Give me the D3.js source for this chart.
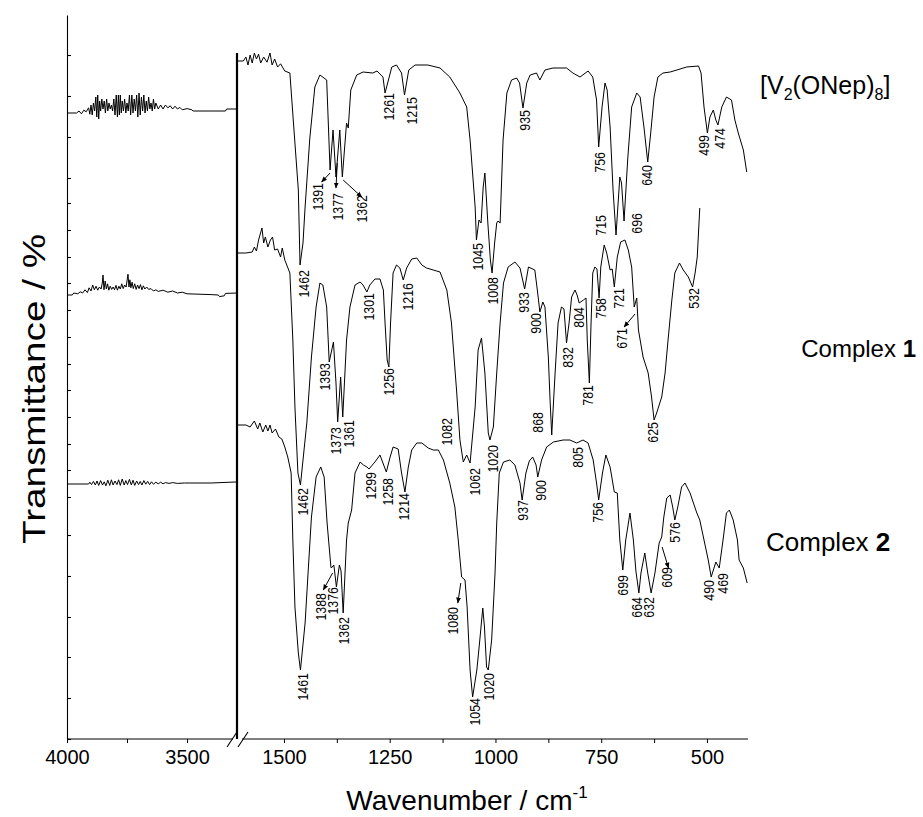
<!DOCTYPE html>
<html>
<head>
<meta charset="utf-8">
<script src="https://cdn.jsdelivr.net/npm/d3@7"></script>
<style>
body { margin:0; background:#fff; }
text { font-family: "Liberation Sans", Arial, sans-serif; fill:#000; }
</style>
</head>
<body>
<svg id="chart" width="923" height="817"></svg>
<script>
// Offset transmittance (arbitrary units) against wavenumber / cm-1

// 4000 - 3300 region, one array per compound
var v2LeftHigh = [[4000,156.5],[3960,156.5],[3950,157],[3940,156.3],[3930,157.2],[3920,156.8],[3910,157.8],[3905,156.2],[3900,158.5],
    [3895,156],[3890,159],[3885,157],[3880,160.5],[3876,155.5],[3872,161],[3868,155],[3864,159.5],[3860,157],[3855,160],[3850,157.5],
    [3845,159.5],[3840,156.5],[3835,160],[3830,157],[3825,159],[3820,157.5],[3815,158.5],[3810,157],[3805,160],[3800,156],[3795,161],
    [3790,155.5],[3786,161],[3782,156],[3778,161],[3774,156.5],[3770,159.5],[3765,157],[3760,160],[3755,156.5],[3750,159],[3745,157],
    [3740,161],[3735,156],[3730,161],[3725,156.5],[3720,160],[3715,157],[3710,161],[3705,155.5],[3700,161.5],[3695,156],[3690,160.5],
    [3685,157],[3680,161],[3675,156.5],[3670,159.5],[3665,157],[3660,160.5],[3655,157.5],[3650,159],[3645,157],[3640,160],[3635,157.5],
    [3630,159],[3620,157.5],[3610,158.5],[3600,157.5],[3590,158.5],[3580,157.8],[3570,158.3],[3560,157.5],[3550,158.2],[3540,157.5],
    [3530,157.9],[3520,157.3],[3500,157.6],[3480,157.3],[3475,157],[3400,157],[3340,157],[3335,157.5],[3292,157.5]]
var c1LeftHigh = [[4000,111],[3978,111],[3972,111.5],[3955,111.3],[3945,111.8],[3935,111.5],[3925,112.3],[3915,111.6],[3908,112.8],
    [3900,112],[3893,113.5],[3886,112.3],[3879,113.2],[3872,112.2],[3865,113],[3858,112.5],[3853,114],[3850,116],[3846,112.3],
    [3841,114.5],[3836,112.5],[3831,113.8],[3826,112.2],[3820,113.2],[3814,112.4],[3808,113],[3802,112.3],[3796,113.4],[3790,112.2],
    [3784,113.2],[3778,112.5],[3772,113.8],[3766,112.6],[3760,113.5],[3754,113],[3750,114.5],[3746,116.2],[3742,113],[3738,114.8],
    [3734,112.8],[3729,114.2],[3724,112.6],[3718,113.8],[3712,112.4],[3706,113.5],[3700,112.6],[3694,113.6],[3688,112.3],[3682,113.3],
    [3676,112.5],[3668,113],[3660,112.4],[3650,112.6],[3640,112],[3630,112.3],[3620,111.9],[3600,112.2],[3580,111.7],[3560,112],
    [3540,111.5],[3520,111.7],[3500,111.3],[3400,111.1],[3370,111],[3365,110.6],[3345,110.8],[3340,111.4],[3292,111.5]]
var c2LeftHigh = [[4000,63.75],[3910,63.75],[3905,64.2],[3898,63.6],[3890,64.4],[3882,63.5],[3875,64.5],[3868,63.4],[3860,64.6],
    [3852,63.5],[3845,64.3],[3838,63.3],[3830,64.7],[3822,63.4],[3815,64.8],[3808,63.5],[3800,64.5],[3792,63.6],[3785,64.8],[3778,63.4],
    [3770,65],[3762,63.5],[3755,64.6],[3748,63.6],[3740,64.9],[3732,63.5],[3725,64.7],[3718,63.4],[3710,64.5],[3702,63.6],[3695,64.4],
    [3688,63.5],[3680,64.6],[3672,63.7],[3664,64.4],[3656,63.6],[3648,64.3],[3640,63.7],[3630,64.2],[3620,63.8],[3610,64.2],[3600,63.8],
    [3590,64.1],[3575,63.9],[3560,64.1],[3540,63.9],[3510,64],[3400,64],[3300,64.25],[3292,64.25]]

// 1600 - 400 region
var v2Finger = [[1611,169.5],[1596,169.5],[1590,170.5],[1585,168.5],[1580,171],[1575,169],[1570,171.5],[1565,170],[1560,171.2],
    [1555,169],[1548,170.5],[1540,169.2],[1533,171.5],[1528,168.5],[1522,170],[1515,168],[1508,168.8],[1498,167],[1486,166.5],
    [1478,154.75],[1466,137.25],[1462,118.5],[1455,124],[1450,133],[1439,150],[1427,163],[1415,166],[1399,164.75],[1391,142.25],
    [1384,152.25],[1377,140.5],[1368,152.25],[1362,140.5],[1352,154],[1348,152.75],[1342,162.25],[1328,166],[1313,166.75],[1290,166.5],
    [1280,167],[1266,165.5],[1261,161.5],[1245,168],[1234,168.5],[1222,166.5],[1215,161],[1205,167.25],[1190,168.5],[1160,168.5],
    [1131,167.75],[1108,165.5],[1084,161.5],[1068,158],[1060,149.75],[1048,133],[1045,124.75],[1039,129.75],[1034,129],[1029,138],
    [1025,141.5],[1018,129],[1012,119.75],[1008,116.5],[1002,124],[997,129],[994,129.5],[989,129],[982,149.75],[973,161.5],[962,164.75],
    [950,165.25],[943,164],[935,157.75],[926,164],[918,166],[903,166.5],[895,164.75],[883,167.25],[864,167.75],[832,167.75],[817,166.5],
    [800,165.5],[781,167],[770,165.5],[761,159.75],[756,148],[748,158],[741,164],[736,162.25],[729,153],[722,137.25],[715,126],
    [706,140.5],[702,139],[696,129.5],[687,145.5],[678,158],[666,161.5],[658,160.5],[649,153],[640,144.25],[633,151.5],[625,160.5],
    [616,165.5],[604,166.5],[587,166.75],[548,168],[520,168.25],[514,166.5],[507,158],[499,151.5],[493,155.5],[485,157.25],[479,154.75],
    [474,153.5],[465,158],[454,160.5],[442,159.75],[434,154.75],[426,151.5],[414,147.25],[406,141.75]]
var c1Finger = [[1611,121.5],[1590,121.5],[1575,121.75],[1570,123],[1565,122],[1560,124.75],[1552,127.75],[1548,124],[1544,125.5],
    [1538,123],[1532,124.75],[1527,125.5],[1522,122.25],[1515,122.5],[1508,120.5],[1504,122.75],[1498,119.75],[1486,116.5],[1479,99.75],
    [1474,83],[1467,66.5],[1461,63.5],[1446,79],[1435,95.5],[1424,108],[1415,114],[1408,113.5],[1399,108],[1393,94.25],[1383,99.25],
    [1377,89],[1373,79.25],[1366,90.5],[1361,80.5],[1352,99.75],[1344,108],[1332,113.5],[1320,114.25],[1313,113.5],[1304,111.75],
    [1297,113.5],[1285,115],[1273,115],[1265,112.25],[1261,104],[1256,94.75],[1252,93],[1248,104],[1242,116.5],[1234,118.5],
    [1226,117.75],[1218,114.75],[1210,117.75],[1198,120],[1186,120.25],[1174,118.5],[1163,117.75],[1131,116.75],[1115,112.25],
    [1104,104],[1092,87.25],[1084,74.75],[1076,69.25],[1068,71],[1060,69],[1048,83],[1041,97.25],[1033,100.25],[1025,91.5],[1017,76.5],
    [1013,74.75],[1005,78],[997,91.5],[989,104],[981,114],[970,118],[954,119.25],[942,117.75],[931,112.5],[922,118],[907,117.25],
    [901,112.25],[895,106.75],[888,109.25],[883,108],[875,95.5],[871,85],[867,76],[859,91.5],[852,104],[844,108],[838,107.5],[832,99],
    [826,104],[820,110.5],[812,112.25],[807,111],[802,109],[792,109.75],[786,110.25],[783,99.75],[778,89],[774,104],[770,116.5],
    [765,118],[760,117.5],[755,110.25],[751,118],[743,123.5],[737,121.5],[729,117.25],[724,117.5],[719,113],[712,120.5],[704,124.25],
    [694,124.75],[686,122.25],[678,118],[672,108],[666,110.25],[662,102.25],[651,95.5],[639,91.5],[631,85.5],[625,79.75],[619,81.5],
    [607,85.5],[599,91.5],[592,99.75],[583,109.75],[576,116.5],[565,119],[556,117.25],[544,115.5],[534,113],[528,116.5],[523,120.5],
    [517,132.75]]
var c2Finger = [[1611,78.5],[1590,78.5],[1580,78],[1570,79.5],[1562,77.5],[1557,79],[1550,76.75],[1543,78.5],[1538,77],[1533,78.5],
    [1528,76.5],[1520,77.5],[1512,75.5],[1505,75],[1498,73],[1491,70.5],[1483,66.5],[1479,49.75],[1474,33],[1466,21.5],[1461,17.25],
    [1450,29],[1443,41.5],[1435,55.5],[1424,65.5],[1413,68],[1405,65.5],[1398,54],[1389,43],[1388,42.75],[1382,43.5],[1376,38],
    [1369,43.5],[1365,42],[1360,31.5],[1352,49.75],[1348,54],[1340,57.25],[1332,66.5],[1320,69.25],[1312,68.5],[1304,68],[1299,67.5],
    [1285,69.25],[1273,71],[1266,69],[1258,66.75],[1249,70.5],[1242,73],[1230,72.5],[1222,66.5],[1214,61.75],[1206,68],[1198,72.25],
    [1186,74],[1174,74],[1159,72.75],[1147,72.25],[1135,72.25],[1123,69.75],[1108,64],[1096,58],[1088,49.75],[1080,40.5],[1072,39.75],
    [1067,33],[1060,17.25],[1054,10.5],[1044,17.25],[1037,24.75],[1030,32.75],[1026,28],[1021,18],[1017,17.25],[1009,24.75],[1001,41.5],
    [997,54],[991,66.5],[981,69.25],[966,69.75],[954,68.5],[942,64],[937,59.75],[928,66.5],[920,69.5],[912,70.5],[904,68.5],[900,65.5],
    [891,69.75],[879,73],[863,74.25],[840,74.75],[824,74.75],[808,74],[793,74.75],[781,74],[769,69.75],[761,64],[756,59.75],[747,66.5],
    [739,71],[729,68],[719,61.75],[712,61.5],[706,49.75],[699,42.25],[692,49.75],[682,56.5],[674,49.75],[668,42],[661,36.5],[656,41.5],
    [647,46.5],[640,41.5],[632,36.5],[623,41.5],[613,49],[607,50.5],[602,55.5],[595,60.25],[587,61],[581,58],[576,54.75],[569,58],
    [560,63],[552,64],[540,61.5],[524,56.5],[517,54.75],[507,49.75],[497,44.75],[490,40.5],[479,44.25],[471,42.75],[462,49.75],
    [454,56.5],[447,57.25],[438,54.75],[428,49.75],[424,44.75],[414,42.75],[405,39]]

// band labels: text, wavenumber and level of the label's top end
var v2Bands = [['1462',1453,117.25],['1391',1420,139],['1377',1372,136.5],['1362',1316,136],['1261',1253,161.5],['1215',1198,160.5],
    ['1045',1043,124],['1008',1006,115.5],['935',930,157.25],['756',754,146.75],['715',752,131],['696',666,131.5],['640',642,143.5],
    ['499',507,151],['474',469,152.75]]
var c1Bands = [['1462',1456,62.75],['1393',1403,94],['1373',1377,78],['1361',1346,79.75],['1301',1299,111.5],['1256',1252,92.75],
    ['1216',1208,114],['1082',1115,80.25],['1062',1049,67.75],['1020',1007,73.5],['933',933,111.75],['900',905,106.5],['868',901,81.75],
    ['832',829,98],['804',803,108],['781',782,88.5],['758',751,110.25],['721',709,112.75],['671',702,102.75],['625',628,79.25],
    ['532',532,112.75]]
var c2Bands = [['1461',1456,16.5],['1388',1412,36.5],['1376',1385,38],['1362',1358,30.5],['1299',1294,66.75],['1258',1255,65.25],
    ['1214',1216,61.5],['1080',1100,33],['1054',1049,10.25],['1020',1015,16.5],['937',936,59.75],['900',892,64.75],['805',806,73],
    ['756',758,59.25],['699',700,41],['664',665,35.5],['632',637,35.5],['609',595,43],['576',576,54.25],['490',496,39.75],['469',463,41.5]]

// pointer arrows: from [wavenumber, level] to [wavenumber, level]
var pointers = [[1391,141.5,1411,139.25],[1374,144,1377,137.75],[1360,139.75,1316,135.5],[670,106.25,696,103],
    [1385,41.5,1407,37.25],[1082,39,1089,34],[606,48,591,42.75]]

var leftTicks = [4000, 3750, 3500]
var rightTicks = [1500, 1375, 1250, 1125, 1000, 875, 750, 625, 500]
var levelTicks = [0, 10.25, 20.5, 30.5, 40.75, 51, 60.5, 67.25, 73.75, 80.5, 87.25, 93.75, 100.5, 107.25, 114, 120.5, 127.25, 134,
    140.25, 150.5, 160.75, 171]

var svg = d3.select('#chart')
var xL = d3.scaleLinear().domain([4000, 3292]).range([67, 237])
var xR = d3.scaleLinear().domain([1611, 403]).range([237, 748])
var y = d3.scaleLinear().domain([0, 181]).range([739, 15])

svg.append('defs').append('marker')
    .attr('id', 'head').attr('viewBox', '0 0 10 10').attr('refX', 9).attr('refY', 5)
    .attr('markerWidth', 6).attr('markerHeight', 6).attr('orient', 'auto')
    .append('path').attr('d', 'M0,1 L10,5 L0,9 z').attr('fill', '#000')

// left y axis, ticks pointing inside
svg.append('g').attr('transform', 'translate(' + xL.range()[0] + ',0)')
    .call(d3.axisRight(y).tickValues(levelTicks).tickFormat('').tickSize(4).tickSizeOuter(0))
    .call(function(g) { g.selectAll('path, line').attr('stroke', '#000').attr('stroke-width', 1.1) })

// bottom axis, two pieces with a break
var bottom = y.range()[0]
var gL = svg.append('g').attr('transform', 'translate(0,' + bottom + ')')
    .call(d3.axisBottom(xL).tickValues(leftTicks).tickFormat(function(d) { return d == 3750 ? '' : d })
        .tickSize(4).tickSizeOuter(0).tickPadding(7))
var gR = svg.append('g').attr('transform', 'translate(0,' + bottom + ')')
    .call(d3.axisBottom(xR).tickValues(rightTicks).tickFormat(function(d) { return d % 250 ? '' : d })
        .tickSize(4).tickSizeOuter(0).tickPadding(7))
;[gL, gR].forEach(function(g) {
    g.select('.domain').remove()
    g.selectAll('line').attr('stroke', '#000')
    g.selectAll('text').attr('font-size', 20).attr('font-family', '"Liberation Sans", Arial, sans-serif').attr('fill', '#000')
})
var cut = xL.range()[1]
svg.append('line').attr('x1', xL.range()[0]).attr('x2', cut - 4).attr('y1', bottom).attr('y2', bottom).attr('stroke', '#000')
svg.append('line').attr('x1', cut + 5).attr('x2', xR.range()[1]).attr('y1', bottom).attr('y2', bottom).attr('stroke', '#000')
;[-5, 6].forEach(function(dx) {
    svg.append('line').attr('x1', cut + dx - 5).attr('y1', bottom + 8).attr('x2', cut + dx + 5).attr('y2', bottom - 7)
        .attr('stroke', '#000').attr('stroke-width', 1.1)
})

// the split between the two regions
svg.append('line').attr('x1', cut).attr('x2', cut).attr('y1', y(171.5)).attr('y2', bottom)
    .attr('stroke', '#000').attr('stroke-width', 2.2)

var lineL = d3.line().x(function(d) { return xL(d[0]) }).y(function(d) { return y(d[1]) })
var lineR = d3.line().x(function(d) { return xR(d[0]) }).y(function(d) { return y(d[1]) })
var traces = [[v2LeftHigh, v2Finger], [c1LeftHigh, c1Finger], [c2LeftHigh, c2Finger]]
traces.forEach(function(t) {
    svg.append('path').attr('d', lineL(t[0])).attr('fill', 'none').attr('stroke', '#000').attr('stroke-width', 1)
    svg.append('path').attr('d', lineR(t[1])).attr('fill', 'none').attr('stroke', '#000').attr('stroke-width', 1)
})

// band labels, rotated
var bands = v2Bands.concat(c1Bands, c2Bands)
svg.selectAll('text.band').data(bands).enter().append('text')
    .attr('class', 'band')
    .attr('transform', function(d) { return 'translate(' + xR(d[1]) + ',' + y(d[2]) + ') rotate(-90)' })
    .attr('text-anchor', 'end').attr('dy', '0.36em')
    .attr('font-size', 14.5)
    .attr('textLength', function(d) { return d[0].length * 6.9 })
    .attr('lengthAdjust', 'spacingAndGlyphs')
    .text(function(d) { return d[0] })

svg.selectAll('line.pointer').data(pointers).enter().append('line')
    .attr('class', 'pointer')
    .attr('x1', function(d) { return xR(d[0]) }).attr('y1', function(d) { return y(d[1]) })
    .attr('x2', function(d) { return xR(d[2]) }).attr('y2', function(d) { return y(d[3]) })
    .attr('stroke', '#000').attr('stroke-width', 1).attr('marker-end', 'url(#head)')

// compound names
var t1 = svg.append('text').attr('x', 760).attr('y', 94).attr('font-size', 25)
t1.append('tspan').text('[V')
t1.append('tspan').attr('font-size', 16).attr('dy', 6).text('2')
t1.append('tspan').attr('dy', -6).text('(ONep)')
t1.append('tspan').attr('font-size', 16).attr('dy', 6).text('8')
t1.append('tspan').attr('dy', -6).text(']')
var t2 = svg.append('text').attr('x', 916).attr('y', 357).attr('text-anchor', 'end').attr('font-size', 24)
t2.append('tspan').text('Complex ')
t2.append('tspan').attr('font-weight', 'bold').text('1')
var t3 = svg.append('text').attr('x', 766).attr('y', 551).attr('font-size', 26)
t3.append('tspan').text('Complex ')
t3.append('tspan').attr('font-weight', 'bold').text('2')

// axis titles
var xt = svg.append('text').attr('x', 467).attr('y', 810).attr('text-anchor', 'middle').attr('font-size', 28)
xt.append('tspan').text('Wavenumber / cm')
xt.append('tspan').attr('font-size', 17).attr('dy', -12).text('-1')
svg.append('text').attr('transform', 'translate(45,389) rotate(-90)').attr('text-anchor', 'middle')
    .attr('font-size', 31).attr('textLength', 310).attr('lengthAdjust', 'spacingAndGlyphs')
    .text('Transmittance / %')
</script>
</body>
</html>
